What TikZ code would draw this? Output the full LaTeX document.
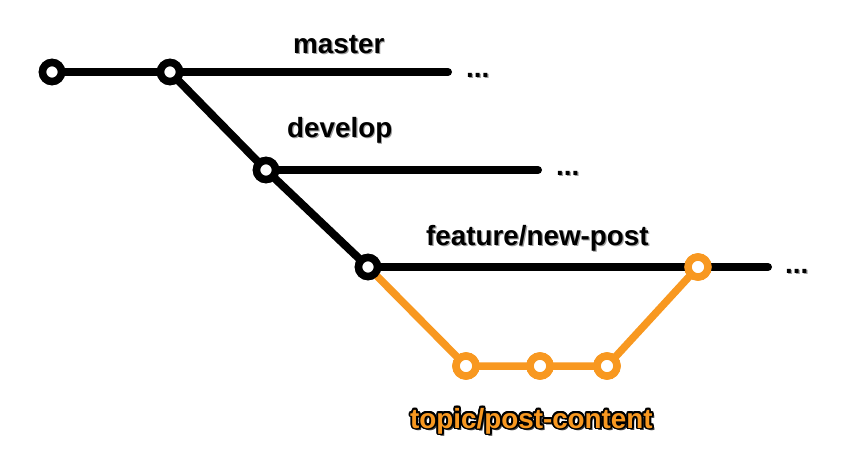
\documentclass[tikz,border=0pt]{standalone}
\usepackage{fontspec}
\setmainfont{Liberation Sans}
\definecolor{gitorange}{RGB}{248,152,32}
\definecolor{shadowgray}{gray}{0.62}
\newcommand\shadowtext[1]{\rlap{\hspace*{1.2pt}\raisebox{-1.8pt}{\color{shadowgray}#1}}{\color{black}#1}}
\newcommand\outlinetext[1]{%
  \rlap{\hspace*{2.2pt}\raisebox{-2.8pt}{\color{black!75}#1}}%
  \foreach \dx/\dy in {1.7/0,1.57/0.65,1.2/1.2,0.65/1.57,0/1.7,-0.65/1.57,-1.2/1.2,-1.57/0.65,-1.7/0,-1.57/-0.65,-1.2/-1.2,-0.65/-1.57,0/-1.7,0.65/-1.57,1.2/-1.2,1.57/-0.65}{\rlap{\hspace*{\dx pt}\raisebox{\dy pt}{\color{black}#1}}}%
  {\color{gitorange}#1}}
\tikzset{
  branch/.style={line width=8pt, line cap=round, line join=round},
  topicline/.style={line width=7.5pt, gitorange, line cap=round, line join=round},
  commit/.style={circle, draw=black, fill=white, line width=7.5pt, minimum size=19pt, inner sep=0pt},
  ocommit/.style={commit, draw=gitorange, minimum size=20pt},
  lbl/.style={anchor=base west, inner sep=0pt, font=\bfseries\fontsize{27.8}{30}\selectfont},
}
\begin{document}
\begin{tikzpicture}[x=1pt,y=-1pt]
\useasboundingbox[fill=white] (0,0) rectangle (859,467);
% coordinates
\coordinate (mend) at (448,72);
\coordinate (dend) at (538,170);
\coordinate (fend) at (768,267);
% commits
\node[commit] (c1) at (52,72) {};
\node[commit] (c2) at (170,72) {};
\node[commit] (c3) at (266,170) {};
\node[commit] (c4) at (368,267) {};
\node[ocommit] (o1) at (466,366) {};
\node[ocommit] (o2) at (540,366) {};
\node[ocommit] (o3) at (607,366) {};
\node[ocommit] (o4) at (698,267) {};
% lines
\draw[branch] (c1.center) -- (c2.center) -- (mend);
\draw[branch] (c2.center) -- (c3.center) -- (c4.center);
\draw[branch] (c3.center) -- (dend);
\draw[branch] (c4.center) -- (fend);
\draw[topicline] (c4.center) -- (o1.center) -- (o2.center) -- (o3.center) -- (o4.center);
% redraw commits on top
\foreach \n/\s in {c1/commit,c2/commit,c3/commit,c4/commit,o1/ocommit,o2/ocommit,o3/ocommit,o4/ocommit}
  \node[\s] at (\n.center) {};
% labels
\node[lbl] (lmaster) at (293,53) {\shadowtext{master}};
\node[lbl] (ldevelop) at (287,137) {\shadowtext{develop}};
\node[lbl] (lfeature) at (426,245) {\shadowtext{feature/new-post}};
\node[lbl] (ltopic) at (410,428) {\outlinetext{topic/post-content}};
\node[lbl] (dm) at (466,77) {\shadowtext{...}};
\node[lbl] (dd) at (556,175) {\shadowtext{...}};
\node[lbl] (df) at (785,273) {\shadowtext{...}};
\end{tikzpicture}
\end{document}
